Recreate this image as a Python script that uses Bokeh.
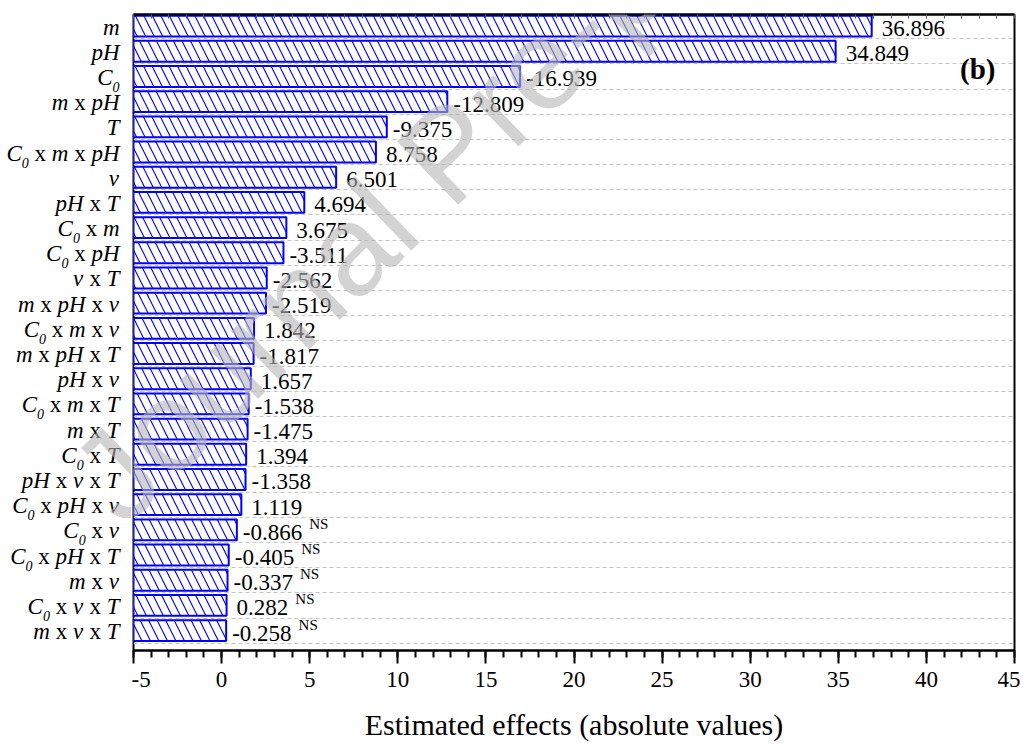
from bokeh.plotting import figure
from bokeh.layouts import row
from bokeh.models import (ColumnDataSource, Range1d, FixedTicker, LinearAxis,
                          LabelSet, Label, Grid)
from bokeh.core.properties import value, field
from bokeh.embed import file_html
from bokeh.resources import INLINE

# ---------------- data ----------------
terms = ["m", "pH", "C0", "m x pH", "T", "C0 x m x pH", "ν", "pH x T", "C0 x m",
         "C0 x pH", "ν x T", "m x pH x ν", "C0 x m x ν", "m x pH x T", "pH x ν",
         "C0 x m x T", "m x T", "C0 x T", "pH x ν x T", "C0 x pH x ν", "C0 x ν",
         "C0 x pH x T", "m x ν", "C0 x ν x T", "m x ν x T"]
effects = [36.896, 34.849, -16.939, -12.809, -9.375, 8.758, 6.501, 4.694, 3.675,
           -3.511, -2.562, -2.519, 1.842, -1.817, 1.657, -1.538, -1.475, 1.394,
           -1.358, 1.119, -0.866, -0.405, -0.337, 0.282, -0.258]
significant = [True] * 20 + [False] * 5
ns_mark = "NS"
x_ticks = [-5, 0, 5, 10, 15, 20, 25, 30, 35, 40, 45]
x_tick_labels = ["-5", "0", "5", "10", "15", "20", "25", "30", "35", "40", "45"]
x_minor = list(range(-5, 46))
x_title = "Estimated effects (absolute values)"
panel_tag = "(b)"
watermark = "Journal Pre-proof"

# ---------------- style ----------------
FONT = "Liberation Serif"
LBL_PX = 23
SUB_PX = 14
NUM_PX = 23
NS_PX = 15
BLUE = "#0000ff"

X0, X1 = -5, 45
FRAME_W, FRAME_H = 881, 636
LEFT_W = 131           # width of the label strip
PAD_L = 2              # main figure left border (keeps outline whole)
PX_PER_X = FRAME_W / (X1 - X0)

n = len(terms)
pos = list(range(n))
mag = [abs(v) for v in effects]
y_rng = Range1d(n - 0.21, -0.46)

# ---------------- main figure ----------------
p = figure(frame_width=FRAME_W, frame_height=FRAME_H, x_range=Range1d(X0, X1),
           y_range=y_rng, y_axis_location=None,
           output_backend="svg", toolbar_location=None,
           min_border_left=PAD_L, min_border_right=6, min_border_top=14,
           min_border_bottom=20, background_fill_color="white",
           border_fill_color="white")
p.outline_line_color = "black"
p.outline_line_width = 2
for g in p.grid:
    g.visible = False

grid = Grid(dimension=1, ticker=FixedTicker(ticks=[i + 0.5 for i in pos]),
            grid_line_color="#c4c4c4", grid_line_dash="4 3", grid_line_width=1)
p.add_layout(grid)

xa = p.xaxis[0]
xa.ticker = FixedTicker(ticks=x_ticks, minor_ticks=x_minor)
xa.major_label_overrides = {t: l for t, l in zip(x_ticks, x_tick_labels)}
xa.axis_line_width = 2
xa.axis_line_color = "black"
xa.major_tick_in = 0
xa.major_tick_out = 13
xa.minor_tick_in = 0
xa.minor_tick_out = 7
xa.major_tick_line_width = 2
xa.minor_tick_line_width = 2
xa.major_label_text_font = FONT
xa.major_label_text_font_size = f"{NUM_PX}px"
xa.major_label_text_color = "black"
xa.major_label_standoff = 8
xa.axis_label = x_title
xa.axis_label_text_font = FONT
xa.axis_label_text_font_size = "30px"
xa.axis_label_text_font_style = "normal"
xa.axis_label_text_color = "black"
xa.axis_label_standoff = 18

ta = LinearAxis(ticker=FixedTicker(ticks=x_ticks, minor_ticks=x_minor),
                major_label_text_font_size="0px", major_label_standoff=0,
                major_tick_in=4, major_tick_out=0, minor_tick_in=4, minor_tick_out=0,
                major_tick_line_color="#555555", minor_tick_line_color="#555555",
                axis_line_width=2, axis_line_color="black")
ta.major_label_overrides = {t: "" for t in x_ticks}
p.add_layout(ta, "above")

src = ColumnDataSource(dict(
    y=pos, right=mag,
    txt=[f"{v:.3f}" for v in effects],
    xo=[10 if v > 0 else 6 for v in effects],
))
p.hbar(y="y", left=X0, right="right", height=0.83, source=src,
       fill_color="white", line_color=BLUE, line_width=2,
       hatch_pattern="\\", hatch_color=BLUE, hatch_scale=17, hatch_weight=1.1)

p.add_layout(LabelSet(x="right", y="y", text="txt", source=src,
                      x_offset=field("xo"), y_offset=-10,
                      text_font=value(FONT), text_font_size=f"{NUM_PX}px",
                      text_color="black", text_baseline="alphabetic"))

def num_width(s):
    w = 0.0
    for ch in s:
        w += {"-": 0.333, ".": 0.25}.get(ch, 0.5)
    return w * NUM_PX

ns_idx = [i for i in pos if not significant[i]]
ns_src = ColumnDataSource(dict(
    x=[mag[i] for i in ns_idx], y=ns_idx, t=[ns_mark] * len(ns_idx),
    xo=[(10 if effects[i] > 0 else 6) + num_width(f"{effects[i]:.3f}") + 7 for i in ns_idx],
))
p.add_layout(LabelSet(x="x", y="y", text="t", source=ns_src, x_offset=field("xo"),
                      y_offset=1, text_font=value(FONT), text_font_size=f"{NS_PX}px",
                      text_color="black", text_baseline="alphabetic"))

p.add_layout(Label(x=X1, y=-0.46, x_offset=-19, y_offset=-54, text=panel_tag,
                   text_font=FONT, text_font_size="29px",
                   text_font_style="bold", text_color="black",
                   text_align="right", text_baseline="alphabetic"))

# ---------------- label strip (same scales, left of the frame) ----------------
lx1 = X0 - PAD_L / PX_PER_X
lx0 = lx1 - LEFT_W / PX_PER_X
q = figure(frame_width=LEFT_W, frame_height=FRAME_H, x_range=Range1d(lx0, lx1),
           y_range=y_rng, x_axis_location=None, y_axis_location=None,
           output_backend="svg", toolbar_location=None,
           min_border_left=0, min_border_right=0, min_border_top=14,
           min_border_bottom=0, background_fill_color="white",
           border_fill_color="white")
q.outline_line_color = None
for g in q.grid:
    g.visible = False

IT_W = {"m": 0.722, "p": 0.5, "H": 0.722, "C": 0.667, "T": 0.556, "ν": 0.47}
SP = 0.25 * LBL_PX
XW = 0.5 * LBL_PX

seg = dict(x=[], y=[], t=[], xo=[], yo=[], fs=[], st=[])
for i, term in enumerate(terms):
    pieces = []  # (text, style, px, dy, width, gap_before)
    toks = term.split(" ")
    for k, tok in enumerate(toks):
        gap = SP if k > 0 else 0.0
        if tok == "x":
            pieces.append(("x", "normal", LBL_PX, 0, XW, gap))
        elif tok.endswith("0"):
            base = tok[:-1]
            pieces.append((base, "italic", LBL_PX, 0,
                           sum(IT_W[c] for c in base) * LBL_PX, gap))
            pieces.append(("0", "italic", SUB_PX, -7, 0.5 * SUB_PX, 0.0))
        else:
            pieces.append((tok, "italic", LBL_PX, 0,
                           sum(IT_W[c] for c in tok) * LBL_PX, gap))
    total = sum(pc[4] + pc[5] for pc in pieces)
    cur = -(14 - PAD_L) - total
    for (t, st, fs, dy, w, gap) in pieces:
        cur += gap
        seg["x"].append(lx1)
        seg["y"].append(i)
        seg["t"].append(t)
        seg["xo"].append(cur)
        seg["yo"].append(-8.5 + dy)
        seg["fs"].append(f"{fs}px")
        seg["st"].append(st)
        cur += w

q.add_layout(LabelSet(x="x", y="y", text="t", source=ColumnDataSource(seg),
                      x_offset=field("xo"), y_offset=field("yo"),
                      text_font=value(FONT), text_font_size=field("fs"),
                      text_font_style=field("st"), text_color="black",
                      text_baseline="alphabetic", text_align="left"))

# watermark, drawn in both panels with the same coordinates
for fig in (q, p):
    fig.add_layout(Label(x=-7.3, y=18.7, text=watermark, angle=0.77,
                         text_font="Liberation Sans", text_font_size="128px",
                         text_color="#b5b5b5", text_alpha=0.6,
                         text_baseline="alphabetic"))

layout = row(q, p)
open("out.html", "w").write(file_html(layout, INLINE))
